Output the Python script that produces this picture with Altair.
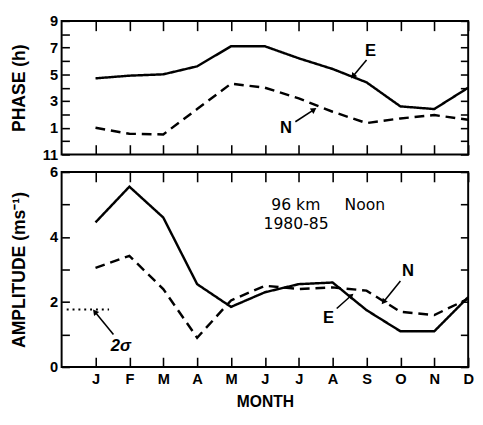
import altair as alt
import pandas as pd
import numpy as np

months = list(range(1, 13))
month_labels = ["J", "F", "M", "A", "M", "J", "J", "A", "S", "O", "N", "D"]
phase_E = [4.7, 4.9, 5.0, 5.6, 7.1, 7.1, 6.2, 5.4, 4.4, 2.6, 2.4, 4.0]
phase_N = [1.0, 0.55, 0.5, 2.4, 4.3, 4.0, 3.2, 2.2, 1.35, 1.7, 1.95, 1.6]
amp_E = [4.45, 5.55, 4.6, 2.55, 1.85, 2.3, 2.55, 2.6, 1.75, 1.1, 1.1, 2.15]
amp_N = [3.05, 3.42, 2.4, 0.9, 2.05, 2.5, 2.4, 2.45, 2.35, 1.7, 1.6, 2.1]

phase_tick_values = [-1, 0, 1, 2, 3, 4, 5, 6, 7, 8, 9]
amp_tick_values = [0, 1, 2, 3, 4, 5, 6]
phase_label_expr = "abs(datum.value % 2) == 1 ? (datum.value < 0 ? '11' : datum.label) : ''"
amp_label_expr = "datum.value % 2 == 0 ? datum.label : ''"
sigma_level = 1.77
sigma_span = [0.15, 1.4]

phase_notes = pd.DataFrame({"t": ["E", "N"], "month": [9.12, 6.62], "value": [6.74, 0.97]})
phase_arrows = pd.DataFrame({"month": [9.0, 6.9], "value": [6.08, 1.45],
                             "month2": [8.6, 7.45], "value2": [4.85, 2.36]})
amp_notes = pd.DataFrame({"t": ["N", "E"], "month": [10.22, 7.88], "value": [2.95, 1.5]})
amp_arrows = pd.DataFrame({"month": [10.0, 8.12, 1.53], "value": [2.65, 1.8, 1.0],
                           "month2": [9.5, 8.55, 0.98], "value2": [2.0, 2.2, 1.7]})
sigma_note = pd.DataFrame({"t": ["2σ"], "month": [1.75], "value": [0.65]})
header = pd.DataFrame({"t": ["96 km", "Noon", "1980-85"],
                       "month": [6.19, 8.35, 5.96], "value": [4.99, 4.99, 4.39]})

W, H1, H2 = 417, 137, 200
FONT = "Liberation Sans"
TICK_Y, TICK_X = 8, 10

xs = alt.Scale(domain=[0, 12], nice=False, zero=False)
ys1 = alt.Scale(domain=[-1, 9], nice=False, zero=False)
ys2 = alt.Scale(domain=[0, 6], nice=False, zero=False)

tick_style = dict(ticks=True, tickColor="black", tickWidth=1.6, domain=False, grid=False)


def arrow_angles(df, pxx, pxy):
    dx = (df["month2"] - df["month"]) * pxx
    dy = -(df["value2"] - df["value"]) * pxy
    return np.mod(np.degrees(np.arctan2(dx, -dy)), 360)


def make_axes(show_x, yvals, ylabexpr, ytitle):
    if show_x:
        xaxis = alt.Axis(values=months, labelExpr="%s[datum.value-1]" % str(month_labels),
                         tickSize={"expr": str(-TICK_X)}, title="MONTH",
                         labelFont=FONT, labelFontSize=15, labelFontWeight="bold",
                         labelPadding=5 + TICK_X, labelOverlap=False, labelFlush=False,
                         titleFont=FONT, titleFontSize=16,
                         titleFontWeight="bold", titlePadding=8, labelColor="black",
                         titleColor="black", orient="bottom", **tick_style)
    else:
        xaxis = alt.Axis(values=months, labels=False, tickSize={"expr": str(-TICK_X)},
                         title=None, orient="bottom", **tick_style)
    yaxis = alt.Axis(values=yvals, labelExpr=ylabexpr, tickSize={"expr": str(-TICK_Y)},
                     title=ytitle, orient="left",
                     labelFont=FONT, labelFontSize=15, labelFontWeight="bold",
                     labelPadding=4 + TICK_Y, labelOverlap=False, labelFlush=False,
                     titleFont=FONT, titleFontSize=18,
                     titleFontWeight="bold", titlePadding=10, minExtent=24, maxExtent=24,
                     labelColor="black", titleColor="black", **tick_style)
    xaxis2 = alt.Axis(values=months, labels=False, tickSize={"expr": str(-TICK_X)},
                      title=None, orient="top", **tick_style)
    yaxis2 = alt.Axis(values=yvals, labels=False, tickSize={"expr": str(-TICK_Y)},
                      title=None, orient="right", **tick_style)
    return xaxis, yaxis, xaxis2, yaxis2


def panel(E, N, ys, H, yvals, ylabexpr, ytitle, notes, arrows, show_x, ydom):
    xaxis, yaxis, xaxis2, yaxis2 = make_axes(show_x, yvals, ylabexpr, ytitle)
    lo, hi = ydom
    pxx = W / 12.0
    pxy = H / (hi - lo)

    def xq(field):
        return alt.X(field, type="quantitative", scale=xs, axis=xaxis)

    def yq(field):
        return alt.Y(field, type="quantitative", scale=ys, axis=yaxis)

    df = pd.DataFrame({
        "month": months * 2,
        "value": E + N,
        "s": ["E"] * 12 + ["N"] * 12,
    })
    lines = alt.Chart(df).mark_line(color="black", strokeWidth=2.5).encode(
        x=xq("month"), y=yq("value"),
        strokeDash=alt.StrokeDash("s:N", scale=alt.Scale(domain=["E", "N"],
                                  range=[[1, 0], [10, 6]]), legend=None),
        detail="s:N",
    )
    enc = dict(x=xq("month"), y=yq("value"))
    arr = arrows.copy()
    arr["ang"] = arrow_angles(arr, pxx, pxy)
    layers = [
        lines,
        alt.Chart(arrows).mark_rule(color="black", strokeWidth=1.6).encode(
            x2="month2:Q", y2="value2:Q", **enc),
        alt.Chart(notes).mark_text(font=FONT, fontSize=17, fontWeight="bold", color="black").encode(
            text="t:N", **enc),
        alt.Chart(arr).mark_point(shape="triangle-up", filled=True, color="black",
                                  size=45, opacity=1).encode(
            x=xq("month2"), y=yq("value2"), angle=alt.Angle("ang:Q", scale=None)),
    ]
    frame = alt.Chart(df).mark_point(opacity=0).encode(
        x=alt.X("month:Q", scale=xs, axis=xaxis2),
        y=alt.Y("value:Q", scale=ys, axis=yaxis2),
    )
    return layers, frame, xq, yq


top_layers, top_frame, _, _ = panel(phase_E, phase_N, ys1, H1, phase_tick_values,
                                    phase_label_expr, "PHASE (h)",
                                    phase_notes, phase_arrows, False, (-1, 9))
top = alt.layer(alt.layer(*top_layers), top_frame).resolve_scale(
    x="independent", y="independent").properties(width=W, height=H1)

bot_layers, bot_frame, bxq, byq = panel(amp_E, amp_N, ys2, H2, amp_tick_values, amp_label_expr,
                                        "AMPLITUDE (ms\u207b\u00b9)", amp_notes, amp_arrows,
                                        True, (0, 6))
sig = pd.DataFrame({"month": [sigma_span[0]], "month2": [sigma_span[1]],
                    "value": [sigma_level], "value2": [sigma_level]})
bot_layers.append(alt.Chart(sig).mark_rule(color="black", strokeWidth=2, strokeDash=[2, 4]).encode(
    x=bxq("month"), x2="month2:Q", y=byq("value"), y2="value2:Q"))
bot_layers.append(alt.Chart(sigma_note).mark_text(font=FONT, fontSize=17, fontWeight="bold",
                                                  fontStyle="italic", color="black").encode(
    x=bxq("month"), y=byq("value"), text="t:N"))
bot_layers.append(alt.Chart(header).mark_text(font="DejaVu Sans", fontSize=16, align="left",
                                              color="black").encode(
    x=bxq("month"), y=byq("value"), text="t:N"))
bot = alt.layer(alt.layer(*bot_layers), bot_frame).resolve_scale(
    x="independent", y="independent").properties(width=W, height=H2)

chart = alt.vconcat(top, bot, spacing=18, bounds="flush").properties(
    padding={"left": 2, "top": 0, "right": 0, "bottom": 0},
    background="white",
).configure_view(stroke="black", strokeWidth=2)

chart.save("out.html", embed_options={"renderer": "svg", "actions": False})
